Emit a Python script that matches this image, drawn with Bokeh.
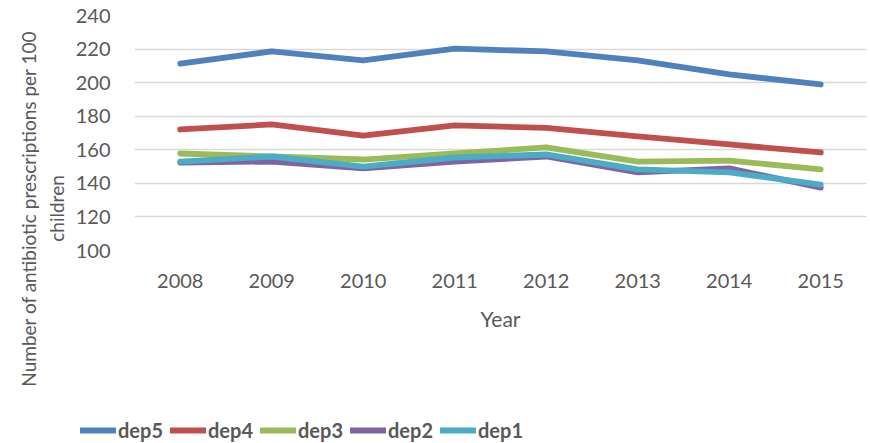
import math
from bokeh.plotting import figure
from bokeh.layouts import row, column
from bokeh.models import FactorRange, Range1d, Legend, LegendItem, Label
from bokeh.embed import file_html
from bokeh.resources import INLINE

years = ["2008", "2009", "2010", "2011", "2012", "2013", "2014", "2015"]
dep5 = [211.4, 218.6, 213.2, 220.3, 218.6, 213.2, 204.9, 198.9]
dep4 = [172.1, 175.1, 168.5, 174.5, 173.0, 168.0, 163.2, 158.4]
dep3 = [157.8, 156.0, 154.2, 157.8, 161.4, 153.0, 153.6, 148.3]
dep2 = [152.4, 153.0, 148.9, 153.0, 156.0, 146.5, 148.9, 137.5]
dep1 = [153.0, 156.0, 150.0, 155.4, 157.2, 148.3, 146.5, 139.3]
series_names = ["dep5", "dep4", "dep3", "dep2", "dep1"]
series_values = [dep5, dep4, dep3, dep2, dep1]
colors = ["#4F81BD", "#C0504D", "#9BBB59", "#8064A2", "#4BACC6"]
y_ticks = [100, 120, 140, 160, 180, 200, 220, 240]
y_title_lines = ["Number of antibiotic prescriptions per 100", "children"]

FONT = "Lato"
TXT = "#595959"
LW = 5.8

# ---- main chart ----
p = figure(width=800, height=400, x_range=FactorRange(*years, range_padding=0),
           y_range=Range1d(100, 240), output_backend="svg", toolbar_location=None,
           min_border_left=64, min_border_right=4, min_border_top=15, min_border_bottom=150)
p.outline_line_color = None
p.xgrid.grid_line_color = None
p.ygrid.grid_line_color = "#D9D9D9"
p.ygrid.grid_line_width = 1.3
p.yaxis.ticker = y_ticks

for ax in (p.xaxis, p.yaxis):
    ax.axis_line_color = None
    ax.major_tick_line_color = None
    ax.minor_tick_line_color = None
    ax.major_tick_out = 0
    ax.major_tick_in = 0
    ax.major_label_text_font = FONT
    ax.major_label_text_font_size = "20px"
    ax.major_label_text_color = TXT

p.yaxis.major_label_standoff = 24
p.xaxis.major_label_standoff = 23
p.xaxis.axis_label = "Year"
p.xaxis.axis_label_text_font = FONT
p.xaxis.axis_label_text_font_size = "21px"
p.xaxis.axis_label_text_font_style = "normal"
p.xaxis.axis_label_text_color = TXT
p.xaxis.axis_label_standoff = 15

for name, vals, c in zip(series_names, series_values, colors):
    p.line(years, vals, line_color=c, line_width=LW, line_cap="round", line_join="round")

# ---- y-axis title panel ----
yl = figure(width=70, height=400, x_range=Range1d(0, 70), y_range=Range1d(0, 400),
            x_axis_type=None, y_axis_type=None, output_backend="svg", toolbar_location=None,
            min_border=0)
yl.outline_line_color = None
yl.xgrid.grid_line_color = None
yl.ygrid.grid_line_color = None
for txt, xpos in zip(y_title_lines, [28, 56]):
    yl.add_layout(Label(x=xpos, y=192, text=txt, angle=math.pi / 2,
                        text_align="center", text_baseline="middle", text_font=FONT,
                        text_font_size="19px", text_color=TXT))

# ---- legend panel (full width) ----
lg = figure(width=870, height=43, x_range=FactorRange(*years), y_range=Range1d(0, 1),
            x_axis_type=None, y_axis_type=None, output_backend="svg", toolbar_location=None,
            min_border=0)
lg.outline_line_color = None
lg.xgrid.grid_line_color = None
lg.ygrid.grid_line_color = None
items = []
for name, vals, c in zip(series_names, series_values, colors):
    # the series lie far outside this strip's y-range, so only the legend glyphs show
    r = lg.line(years, vals, line_color=c, line_width=LW, line_cap="round")
    items.append(LegendItem(label=name, renderers=[r]))
legend = Legend(items=items, orientation="horizontal", location=(80, 1),
                glyph_width=36, glyph_height=20, label_standoff=2, label_width=46, spacing=6,
                padding=0, margin=0, border_line_color=None, background_fill_alpha=0,
                label_text_font=FONT, label_text_font_size="20px", label_text_font_style="bold",
                label_text_color=TXT)
lg.add_layout(legend, "center")

layout = column(row(column(yl, spacing=0), p, spacing=0), lg, spacing=0)
open("out.html", "w").write(file_html(layout, INLINE))
